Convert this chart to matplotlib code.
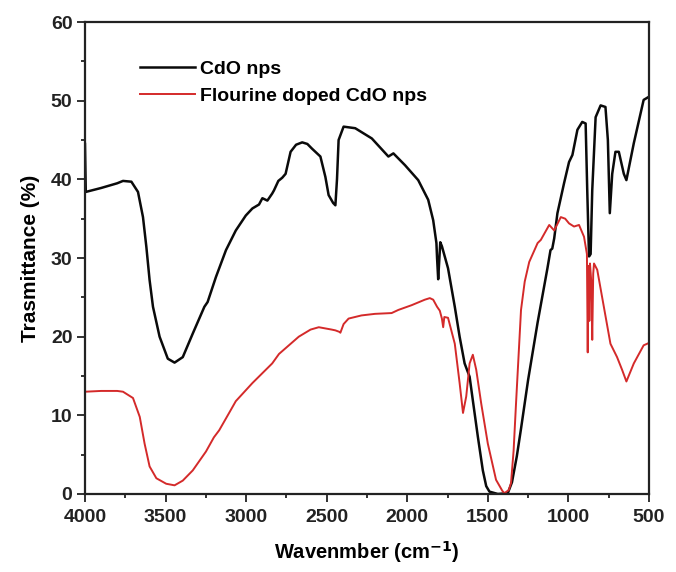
import matplotlib
matplotlib.use("Agg")
import matplotlib.pyplot as plt
from matplotlib.ticker import MultipleLocator

plt.rcParams['font.family'] = ['Liberation Sans', 'DejaVu Sans']
plt.rcParams['font.weight'] = 'bold'

# CdO nps
wn_cdo = [4000, 3995, 3900, 3800, 3764, 3712, 3671, 3640, 3619, 3599, 3578, 3537,
          3486, 3444, 3393, 3331, 3259, 3239, 3187, 3125, 3064, 3002, 2961, 2920,
          2899, 2868, 2858, 2838, 2827, 2800, 2776, 2755, 2724, 2690, 2652, 2620,
          2591, 2539, 2508, 2488, 2460, 2446, 2436, 2426, 2395, 2323, 2220, 2117,
          2086, 2014, 1932, 1870, 1839, 1819, 1815, 1808, 1795, 1785, 1747, 1705,
          1675, 1644, 1613, 1593, 1562, 1531, 1510, 1490, 1438, 1376, 1350, 1320,
          1294, 1250, 1191, 1130, 1111, 1100, 1088, 1068, 1027, 996, 975, 944, 914, 893,
          883, 872, 862, 852, 831, 800, 770, 755, 743, 728, 708, 687, 656, 640,
          594, 533, 500]
tr_cdo = [44.5, 38.4, 38.9, 39.5, 39.8, 39.7, 38.4, 35.2, 31.4, 27.2, 23.8, 20.0,
          17.2, 16.7, 17.4, 20.4, 23.8, 24.4, 27.6, 31.0, 33.5, 35.4, 36.3, 36.8,
          37.6, 37.3, 37.6, 38.2, 38.6, 39.8, 40.2, 40.7, 43.5, 44.4, 44.7, 44.5,
          43.9, 42.9, 40.3, 38.0, 37.0, 36.7, 40.0, 45.0, 46.7, 46.5, 45.2, 42.9,
          43.3, 41.8, 39.9, 37.4, 34.8, 31.9, 30.0, 27.3, 32.0, 31.5, 28.7, 23.8,
          20.0, 16.6, 14.9, 11.9, 7.3, 3.0, 1.0, 0.3, 0.0, 0.1, 1.5, 4.8,
          8.3, 14.5, 21.8, 28.7, 31.0, 31.2, 32.5, 35.7, 39.5, 42.2, 43.1, 46.3, 47.3, 47.1,
          38.6, 30.2, 30.5, 38.6, 47.9, 49.4, 49.2, 45.0, 35.7, 40.7, 43.5, 43.5, 40.7, 39.9,
          44.6, 50.1, 50.5]

# Flourine doped CdO nps
wn_fd = [4000, 3900, 3800, 3764, 3702, 3660, 3630, 3599, 3557, 3496, 3444, 3393,
         3331, 3249, 3200, 3167, 3100, 3064, 2961, 2838, 2796, 2673, 2600, 2549,
         2469, 2446, 2420, 2415, 2395, 2364, 2284, 2200, 2097, 2055, 1973, 1891,
         1860, 1839, 1815, 1798, 1785, 1777, 1770, 1747, 1705, 1675, 1654, 1634,
         1613, 1593, 1572, 1541, 1500, 1449, 1410, 1397, 1370, 1356, 1340, 1325,
         1294, 1271, 1243, 1191, 1171, 1130, 1119, 1088, 1047, 1020, 996, 965,
         934, 903, 885, 880, 876, 870, 866, 858, 852, 846, 841, 821, 780, 739,
         698, 667, 640, 594, 533, 500]
tr_fd = [13.0, 13.1, 13.1, 13.0, 12.2, 9.8, 6.4, 3.5, 2.0, 1.3, 1.1, 1.7,
         3.0, 5.4, 7.2, 8.1, 10.5, 11.8, 14.1, 16.6, 17.8, 20.0, 20.9, 21.2,
         20.9, 20.8, 20.6, 20.5, 21.6, 22.3, 22.7, 22.9, 23.0, 23.4, 24.0, 24.7,
         24.9, 24.7, 23.8, 23.3, 22.3, 21.2, 22.5, 22.4, 19.1, 14.1, 10.3, 12.4,
         16.6, 17.7, 15.8, 11.5, 6.4, 1.8, 0.4, 0.1, 0.5, 1.4, 5.5, 11.5,
         23.4, 27.0, 29.5, 31.9, 32.3, 33.8, 34.2, 33.5, 35.2, 35.0, 34.4, 34.0,
         34.2, 32.7, 30.5, 18.0, 29.0, 22.0, 29.3, 27.0, 19.6, 28.0, 29.3, 28.5, 23.8, 19.1,
         17.4, 15.8, 14.3, 16.6, 18.9, 19.2]

fig = plt.figure(figsize=(6.76, 5.72), dpi=100)
ax = fig.add_axes([0.1257, 0.1364, 0.8343, 0.8251])

ax.plot(wn_cdo, tr_cdo, color='#0a0a0a', lw=1.8, label='CdO nps')
ax.plot(wn_fd, tr_fd, color='#d42a2a', lw=1.4, label='Flourine doped CdO nps')

ax.set_xlim(4000, 500)
ax.set_ylim(0, 60)
ax.xaxis.set_major_locator(MultipleLocator(500))
ax.xaxis.set_minor_locator(MultipleLocator(250))
ax.yaxis.set_major_locator(MultipleLocator(10))
ax.yaxis.set_minor_locator(MultipleLocator(5))
ax.tick_params(which='both', direction='out', top=False, right=False,
               labelsize=14, width=1.3, colors='#222222')
ax.tick_params(axis='x', which='major', length=6, pad=5)
ax.tick_params(axis='y', which='major', length=6, pad=3)
ax.tick_params(which='minor', length=3)
for lab in ax.get_xticklabels() + ax.get_yticklabels():
    lab.set_fontweight('bold')
for s in ax.spines.values():
    s.set_linewidth(1.6)
    s.set_color('#222222')

ax.set_xlabel('Wavenmber (cm$^{\\mathbf{-1}}$)', fontsize=14.5, fontweight='bold', labelpad=9)
ax.set_ylabel('Trasmittance (%)', fontsize=15, fontweight='bold', labelpad=8)

leg = ax.legend(loc='upper left', bbox_to_anchor=(0.08, 0.94), frameon=False,
                borderpad=0, handlelength=2.85, handletextpad=0.26, labelspacing=0.5,
                prop={'size': 14, 'weight': 'bold'})

fig.savefig('out.png', dpi=100)
